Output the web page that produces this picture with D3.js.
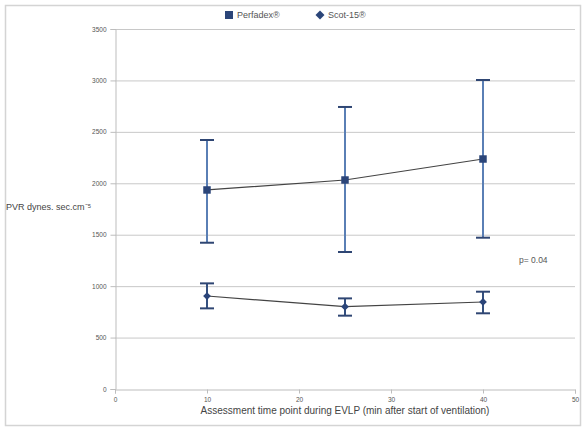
<!DOCTYPE html>
<html><head><meta charset="utf-8">
<script src="https://cdn.jsdelivr.net/npm/d3@7"></script>
<style>body{margin:0;background:#fff}svg{display:block;font-family:"Liberation Sans",Arial,sans-serif}</style>
</head><body>
<svg id="c" width="582" height="427"></svg>
<script>
const timePoints = [10, 25, 40];
const perfadexMean = [1935, 2032, 2236];
const perfadexUpper = [2421, 2742, 3004];
const perfadexLower = [1422, 1332, 1471];
const scotMean = [904, 800, 846];
const scotUpper = [1027, 881, 946];
const scotLower = [784, 713, 736];
const yTicks = [0, 500, 1000, 1500, 2000, 2500, 3000, 3500];
const xTicks = [0, 10, 20, 30, 40, 50];
const seriesNames = ["Perfadex\u00AE", "Scot-15\u00AE"];

const svg = d3.select("#c");
svg.append("rect").attr("x",5.5).attr("y",5.5).attr("width",575).attr("height",420)
  .attr("fill","#fff").attr("stroke","#d4d4d4").attr("stroke-width",1.5);

const x = d3.scaleLinear().domain([0,50]).range([115,575]);
const y = d3.scaleLinear().domain([0,3500]).range([389,29]);

// gridlines
svg.append("g").selectAll("line").data(yTicks.slice(1)).join("line")
  .attr("x1",x(0)).attr("x2",x(50)).attr("y1",d=>y(d)+0.5).attr("y2",d=>y(d)+0.5)
  .attr("stroke","#c8c8c8").attr("stroke-width",1);

// y axis
const yAxis = svg.append("g").attr("transform",`translate(${x(0)+0.5},0)`)
  .call(d3.axisLeft(y).tickValues(yTicks).tickSize(5).tickPadding(4).tickFormat(d3.format("d")));
yAxis.select(".domain").attr("stroke","#bdbdbd");
yAxis.selectAll(".tick line").attr("stroke","#bdbdbd");
yAxis.selectAll("text").attr("fill","#555").style("font-size","6.5px");

// x axis
const xAxis = svg.append("g").attr("transform",`translate(0,${y(0)+0.5})`)
  .call(d3.axisBottom(x).tickValues(xTicks).tickSize(4).tickPadding(4).tickFormat(d3.format("d")));
xAxis.select(".domain").attr("stroke","#bdbdbd");
xAxis.selectAll(".tick line").attr("stroke","#bdbdbd");
xAxis.selectAll("text").attr("fill","#555").style("font-size","6.5px");

function drawSeries(mean, up, lo, isDiamond){
  const g = svg.append("g");
  g.selectAll("line.err").data(timePoints).join("line").attr("class","err")
    .attr("x1",d=>x(d)).attr("x2",d=>x(d))
    .attr("y1",(d,i)=>y(up[i])).attr("y2",(d,i)=>y(lo[i]))
    .attr("stroke",isDiamond?"#34507f":"#5a7fb5").attr("stroke-width",2);
  const capW = 7;
  ["up","lo"].forEach(k=>{
    const arr = k==="up"?up:lo;
    g.selectAll("line.cap"+k).data(timePoints).join("line").attr("class","cap"+k)
      .attr("x1",d=>x(d)-capW).attr("x2",d=>x(d)+capW)
      .attr("y1",(d,i)=>y(arr[i])).attr("y2",(d,i)=>y(arr[i]))
      .attr("stroke","#2f4673").attr("stroke-width",2);
  });
  g.append("path").datum(timePoints)
    .attr("d",d3.line().x(d=>x(d)).y((d,i)=>y(mean[i])))
    .attr("fill","none").attr("stroke","#444").attr("stroke-width",1.2);
  const sym = d3.symbol().type(d3.symbolSquare).size(isDiamond?30:56);
  g.selectAll("path.m").data(timePoints).join("path").attr("class","m")
    .attr("d",sym).attr("transform",(d,i)=>`translate(${x(d)},${y(mean[i])})${isDiamond?" rotate(45)":""}`)
    .attr("fill","#2b4579");
}
drawSeries(perfadexMean, perfadexUpper, perfadexLower, false);
drawSeries(scotMean, scotUpper, scotLower, true);

// legend
const lg = svg.append("g");
lg.append("rect").attr("x",225).attr("y",11).attr("width",8).attr("height",8).attr("fill","#2b4579");
lg.append("text").attr("x",237).attr("y",18).text(seriesNames[0]).attr("fill","#555").style("font-size","9px");
lg.append("path").attr("d",d3.symbol().type(d3.symbolSquare).size(40)).attr("transform","translate(320,15) rotate(45)").attr("fill","#2b4579");
lg.append("text").attr("x",328).attr("y",18).text(seriesNames[1]).attr("fill","#555").style("font-size","9px");

// axis titles
svg.append("text").attr("x",6).attr("y",210).text("PVR dynes. sec.cm\u207B\u2075")
  .attr("fill","#444").style("font-size","9px");
svg.append("text").attr("x",345).attr("y",414).attr("text-anchor","middle")
  .text("Assessment time point during EVLP (min after start of ventilation)")
  .attr("fill","#444").style("font-size","10px");
svg.append("text").attr("x",519).attr("y",263).text("p= 0.04").attr("fill","#555").style("font-size","8.5px");
</script>
</body></html>
